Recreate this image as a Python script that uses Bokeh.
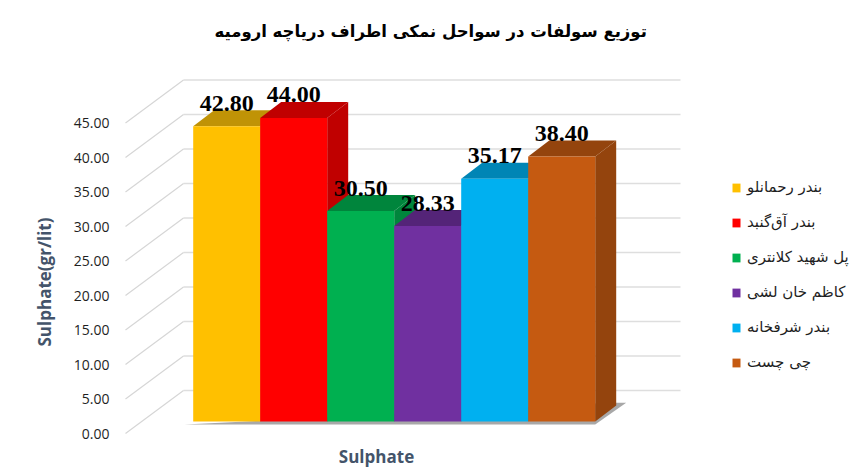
from bokeh.plotting import figure
from bokeh.models import Range1d, LinearAxis, FixedTicker, NumeralTickFormatter, Legend, LegendItem, ColumnDataSource, Title
from bokeh.core.properties import value
from bokeh.embed import file_html
from bokeh.resources import INLINE

title = "توزیع سولفات در سواحل نمکی اطراف دریاچه ارومیه"
categories = ["بندر رحمانلو", "بندر آق‌گنبد", "پل شهید کلانتری", "کاظم خان لشی", "بندر شرفخانه", "چی چست"]
sulphate = [42.80, 44.00, 30.50, 28.33, 35.17, 38.40]
tick_values = [0, 5, 10, 15, 20, 25, 30, 35, 40, 45]
front_colors = ["#ffc000", "#ff0000", "#00b050", "#7030a0", "#00b0f0", "#c55a11"]
dark_colors = ["#c09306", "#c00000", "#00853c", "#542478", "#0085b5", "#94440d"]
x_title = "Sulphate"
y_title = "Sulphate(gr/lit)"

# scale helpers: one bar = 67 px, one unit = 6.9 px
W, H = 862, 470
PX_X, PX_Y = 67.0, 6.9
FRAME_L, FRAME_R, FRAME_T, FRAME_B = 115, 862, 60, 470
BAR0_X, BASE_Y, TICK0_Y = 226.2, 421, 433
ux = lambda px: (px - BAR0_X) / PX_X
uy = lambda py: (BASE_Y - py) / PX_Y
DX, DY = 21 / PX_X, 16 / PX_Y
WALL = uy(390)
WALL_L, WALL_R, FRONT_L = ux(183), ux(680), ux(125)
FRONT_Y = uy(TICK0_Y)

p = figure(width=W, height=H, output_backend="svg", toolbar_location=None,
           x_range=Range1d(ux(FRAME_L), ux(FRAME_R)),
           y_range=Range1d(uy(FRAME_B), uy(FRAME_T)),
           x_axis_location=None, y_axis_location=None, title=title,
           min_border_left=FRAME_L, min_border_right=W - FRAME_R,
           min_border_top=FRAME_T, min_border_bottom=H - FRAME_B,
           background_fill_color="white", border_fill_color="white")
p.outline_line_color = None
p.grid.visible = False

p.title.align = "left"
p.title.offset = 99
p.title.standoff = 39
p.title.text_font = "DejaVu Sans"
p.title.text_font_style = "bold"
p.title.text_font_size = "16.5px"
p.title.text_color = "#000000"

# front-plane axis: same pixel scale, zero sits lower than the bars' foot
p.extra_y_ranges["front"] = Range1d((TICK0_Y - FRAME_B) / PX_Y, (TICK0_Y - FRAME_T) / PX_Y)
ya = LinearAxis(y_range_name="front", ticker=FixedTicker(ticks=tick_values),
                formatter=NumeralTickFormatter(format="0.00"))
ya.axis_line_color = None
ya.major_tick_line_color = None
ya.minor_tick_line_color = None
ya.major_tick_out = 0
ya.major_tick_in = 0
ya.major_label_standoff = 6
ya.major_label_text_font = "Open Sans"
ya.major_label_text_font_size = "14px"
ya.major_label_text_color = "#1f1f1f"
p.add_layout(ya, "left")

p.add_layout(Title(text=y_title, align="left", offset=124, standoff=29, text_font="Open Sans",
                   text_font_style="bold", text_font_size="17px", text_color="#44546a"), "left")

# back wall and floor gridlines
p.segment(x0=[WALL_L] * len(tick_values), x1=[WALL_R] * len(tick_values),
          y0=[t + WALL for t in tick_values], y1=[t + WALL for t in tick_values],
          line_color="#dedede", line_width=1.5)
p.segment(x0=[FRONT_L] * len(tick_values), x1=[WALL_L] * len(tick_values),
          y0=[t + FRONT_Y for t in tick_values], y1=[t + WALL for t in tick_values],
          line_color="#d6d6d6", line_width=1.2)

# floor shadow
n = len(sulphate)
p.patch(x=[ux(184), n - 0.5, n - 0.5 + 31 / PX_X, n - 0.5 + 14 / PX_X],
        y=[-0.45, -0.45, 2.7, 2.7], fill_color="#a8a8a8", line_color=None)

bars = []
for i, v in enumerate(sulphate):
    l, r = i - 0.5, i + 0.5
    p.patch(x=[r, r + DX, r + DX, r], y=[v, v + DY, DY, 0], fill_color=dark_colors[i], line_color=None)
    p.patch(x=[l, l + DX, r + DX, r], y=[v, v + DY, v + DY, v], fill_color=dark_colors[i], line_color=None)
    bars.append(p.vbar(x=[i], top=[v], bottom=0, width=1.0, fill_color=front_colors[i], line_color=None))

src = ColumnDataSource(dict(x=list(range(n)), y=sulphate, t=[f"{v:.2f}" for v in sulphate]))
p.text(x="x", y="y", text="t", source=src, y_offset=-23, text_align="center", text_baseline="middle",
       text_font=value("Liberation Serif"), text_font_style="bold", text_font_size="24px", text_color="#000000")

p.text(x=[ux(376)], y=[uy(456)], text=[x_title], text_align="center", text_baseline="middle",
       text_font=value("Open Sans"), text_font_style="bold", text_font_size="17px", text_color="#44546a")

legend = Legend(items=[LegendItem(label=c, renderers=[b]) for c, b in zip(categories, bars)],
                location=(731 - FRAME_L, FRAME_B - 372), orientation="vertical",
                background_fill_alpha=0, border_line_color=None, padding=0, margin=0, spacing=15,
                label_height=20, glyph_width=10, glyph_height=11, label_standoff=6,
                label_text_font="DejaVu Sans", label_text_font_size="15px", label_text_color="#1f1f1f")
p.add_layout(legend, "center")

open("out.html", "w").write(file_html(p, INLINE))
